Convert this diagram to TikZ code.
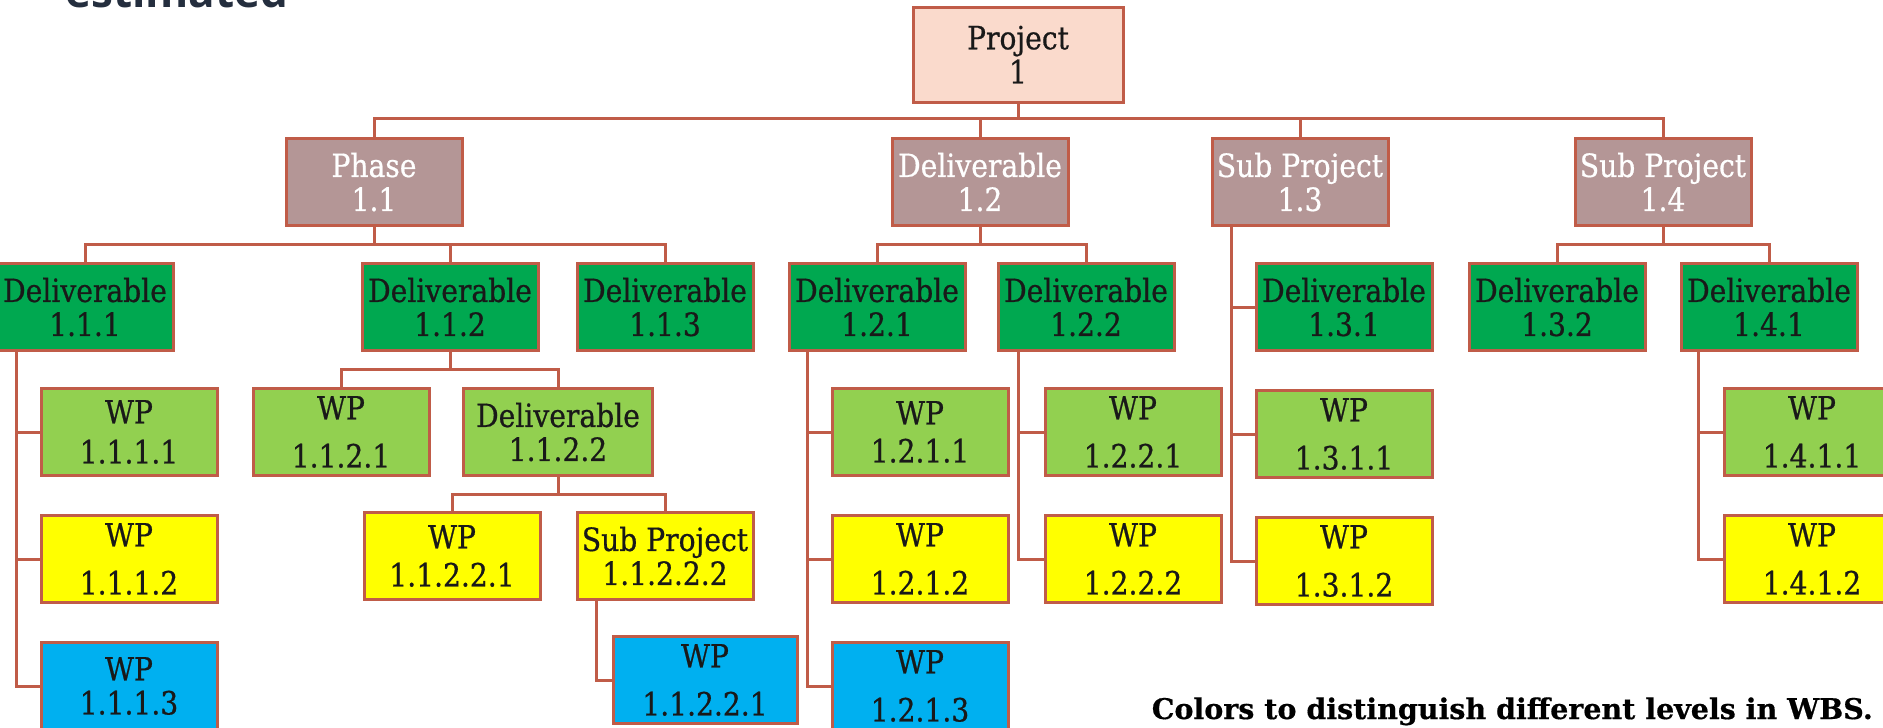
\documentclass[tikz,border=0pt]{standalone}
\usepackage{fontspec}
\usepackage{tikz}
\usetikzlibrary{positioning}
\newfontfamily\boxfont[FakeStretch=0.88, FakeBold=0.6]{DejaVu Serif}
\newfontfamily\notefont[FakeBold=0.5]{DejaVu Serif}
\newfontfamily\headfont{Open Sans}
\definecolor{wbsline}{RGB}{192,92,72}
\definecolor{projfill}{RGB}{250,218,204}
\definecolor{mauve}{RGB}{180,150,150}
\definecolor{darkgreen}{RGB}{0,168,80}
\definecolor{lightgreen}{RGB}{146,208,80}
\definecolor{wpyellow}{RGB}{255,255,0}
\definecolor{wpblue}{RGB}{0,176,240}
\definecolor{slate}{RGB}{36,46,62}
\tikzset{
wbsbox/.style={draw=wbsline, line width=3pt, minimum width=176pt, minimum height=87pt, inner sep=0pt, align=center, text=black!90, font=\boxfont\fontsize{32}{34}\selectfont}, % every box of the breakdown
projectnode/.style={wbsbox, fill=projfill, minimum width=210pt, minimum height=95pt}, % the project itself
levelone/.style={wbsbox, fill=mauve, text=white}, % phases, sub projects
leveltwo/.style={wbsbox, fill=darkgreen}, % deliverables
levelthree/.style={wbsbox, fill=lightgreen}, % first work packages
levelfour/.style={wbsbox, fill=wpyellow}, % second work packages
levelfive/.style={wbsbox, fill=wpblue}, % third work packages
wbslink/.style={draw=wbsline, line width=3pt}, % connectors
}

\begin{document}
\begin{tikzpicture}[x=1pt, y=-1pt, node distance=37pt]
    \useasboundingbox (0,0) rectangle (1883,728);
    \clip (0,0) rectangle (1883,728);

    % cut off heading above the chart
    \node[anchor=base west, inner sep=0pt, text=slate, font=\headfont\bfseries\fontsize{44}{50}\selectfont] (head) at (65,8) {estimated};

    % project and level one
    \node[projectnode] (proj) at (1018,54.5) {Project\\1};
    \node[levelone] (p11) at (374,182) {Phase\\1.1};
    \node[levelone] (d12) at (980,182) {Deliverable\\1.2};
    \node[levelone] (sp13) at (1300,182) {Sub Project\\1.3};
    \node[levelone] (sp14) at (1663,182) {Sub Project\\1.4};

    % deliverables
    \node[leveltwo] (d111) at (85,307) {Deliverable\\1.1.1};
    \node[leveltwo] (d112) at (450,307) {Deliverable\\1.1.2};
    \node[leveltwo] (d113) at (665,307) {Deliverable\\1.1.3};
    \node[leveltwo] (d121) at (877,307) {Deliverable\\1.2.1};
    \node[leveltwo] (d122) at (1086,307) {Deliverable\\1.2.2};
    \node[leveltwo] (d131) at (1344,307) {Deliverable\\1.3.1};
    \node[leveltwo] (d132) at (1557,307) {Deliverable\\1.3.2};
    \node[leveltwo] (d141) at (1769,307) {Deliverable\\1.4.1};

    % work packages
    \node[levelthree] (w1111) at (129,432) {WP\\[6pt]1.1.1.1};
    \node[levelfour, below=of w1111] (w1112) {WP\\[14pt]1.1.1.2};
    \node[levelfive, below=of w1112] (w1113) {WP\\1.1.1.3};
    \node[levelthree] (w1121) at (341,432) {WP\\[14pt]1.1.2.1};
    \node[levelthree, minimum width=189pt] (d1122) at (558,432) {Deliverable\\1.1.2.2};
    \node[levelfour] (w11221) at (452,556) {WP\\[4pt]1.1.2.2.1};
    \node[levelfour] (sp11222) at (665,556) {Sub Project\\1.1.2.2.2};
    \node[levelfive, minimum width=184pt] (w11221b) at (705,680) {WP\\[14pt]1.1.2.2.1};
    \node[levelthree] (w1211) at (920,432) {WP\\[4pt]1.2.1.1};
    \node[levelfour, below=of w1211] (w1212) {WP\\[14pt]1.2.1.2};
    \node[levelfive, below=of w1212] (w1213) {WP\\[14pt]1.2.1.3};
    \node[levelthree] (w1221) at (1133,432) {WP\\[14pt]1.2.2.1};
    \node[levelfour, below=of w1221] (w1222) {WP\\[14pt]1.2.2.2};
    \node[levelthree, below=of d131] (w1311) {WP\\[14pt]1.3.1.1};
    \node[levelfour, below=of w1311] (w1312) {WP\\[14pt]1.3.1.2};
    \node[levelthree] (w1411) at (1812,432) {WP\\[14pt]1.4.1.1};
    \node[levelfour, below=of w1411] (w1412) {WP\\[14pt]1.4.1.2};

    \node[anchor=base east, inner sep=0pt, font=\notefont\bfseries\fontsize{28.5}{32}\selectfont] (note) at (1873,719) {Colors to distinguish different levels in WBS.};

    % buses
    \coordinate (bus0) at (0,118);
    \coordinate (bus1) at (0,244);
    \coordinate (bus2) at (0,369);
    \coordinate (bus3) at (0,494);
    \foreach \p/\c/\b in {proj/p11/bus0, proj/d12/bus0, proj/sp13/bus0, proj/sp14/bus0,
        p11/d111/bus1, p11/d112/bus1, p11/d113/bus1, d12/d121/bus1, d12/d122/bus1,
        sp14/d132/bus1, sp14/d141/bus1, d112/w1121/bus2, d112/d1122/bus2,
        d1122/w11221/bus3, d1122/sp11222/bus3}
        \draw[wbslink] (\p.south) -- (\p.south |- \b) -| (\c.north);

    % side trunks
    \coordinate (tr111) at (16,0);
    \coordinate (tr11222) at (596,0);
    \coordinate (tr121) at (807,0);
    \coordinate (tr122) at (1018,0);
    \coordinate (tr13) at (1231,0);
    \coordinate (tr141) at (1698,0);
    \foreach \p/\t/\c in {d111/tr111/w1111, d111/tr111/w1112, d111/tr111/w1113,
        sp11222/tr11222/w11221b, d121/tr121/w1211, d121/tr121/w1212, d121/tr121/w1213,
        d122/tr122/w1221, d122/tr122/w1222, sp13/tr13/d131, sp13/tr13/w1311,
        sp13/tr13/w1312, d141/tr141/w1411, d141/tr141/w1412}
        \draw[wbslink] (\t |- \p.south) |- (\c.west);
\end{tikzpicture}
\end{document}
